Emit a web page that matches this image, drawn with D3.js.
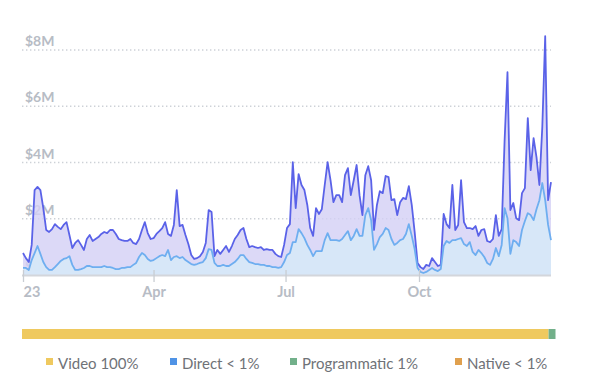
<!DOCTYPE html>
<html>
<head>
<meta charset="utf-8">
<script src="https://cdn.jsdelivr.net/npm/d3@7"></script>
<style>
  html, body { margin: 0; padding: 0; background: #fff; }
  svg { display: block; }
  text { font-family: Lato, "Open Sans", sans-serif; }
</style>
</head>
<body>
<svg id="chart" width="600" height="379"></svg>
<script>
// ---- data (values in $M, one sample every 2 days starting 2023-01-01) ----
const startDate = "2023-01-01";
const stepDays = 2;
const totalRevenue = [
  0.78,0.60,0.46,1.07,3.02,3.13,3.02,2.38,1.60,1.53,1.63,1.81,1.71,1.63,1.78,1.88,1.42,0.96,1.14,1.24,
  1.07,0.89,1.28,1.42,1.21,1.28,1.35,1.46,1.53,1.49,1.60,1.60,1.46,1.28,1.24,1.21,1.21,1.28,1.14,1.10,
  1.28,1.60,1.88,1.49,1.28,1.31,1.46,1.56,1.67,1.88,1.46,1.39,1.78,3.02,1.74,1.78,1.42,1.10,0.71,0.57,
  0.60,0.67,0.82,1.14,2.31,2.24,0.67,0.89,0.75,0.89,1.03,0.82,1.03,1.28,1.42,1.60,1.67,1.28,0.99,1.03,
  0.99,0.96,0.99,0.89,0.92,0.89,0.89,0.75,0.67,0.64,1.07,1.67,1.81,4.01,2.38,3.59,3.20,3.02,2.49,1.67,
  1.39,2.38,2.17,2.34,3.20,4.01,3.37,2.59,2.84,2.84,2.59,3.55,3.80,2.84,3.37,3.91,2.84,2.13,3.55,3.87,
  3.37,1.60,2.49,2.98,2.91,3.52,3.48,2.66,2.70,2.13,2.59,2.74,2.70,3.16,2.49,1.53,0.43,0.28,0.21,0.36,
  0.32,0.60,0.46,0.32,0.36,2.17,1.81,1.67,3.20,1.60,1.78,3.37,1.88,1.67,1.67,1.63,1.74,1.39,1.60,1.63,
  1.21,1.17,1.28,2.13,1.39,1.63,4.76,7.21,2.31,2.56,2.02,1.95,2.91,3.09,5.58,3.73,4.87,4.19,3.20,5.26,
  8.49,2.66,3.30
];
const directRevenue = [
  0.25,0.25,0.18,0.53,0.78,1.03,0.75,0.46,0.28,0.18,0.18,0.28,0.39,0.50,0.57,0.60,0.67,0.36,0.18,0.18,
  0.21,0.25,0.32,0.32,0.28,0.28,0.28,0.28,0.32,0.28,0.28,0.25,0.21,0.21,0.25,0.25,0.28,0.28,0.36,0.43,
  0.64,0.78,0.71,0.57,0.50,0.53,0.60,0.67,0.71,0.67,0.89,0.53,0.64,0.67,0.60,0.64,0.53,0.46,0.39,0.36,
  0.39,0.43,0.46,0.60,0.92,0.89,0.43,0.32,0.32,0.36,0.32,0.32,0.39,0.46,0.57,0.71,0.71,0.57,0.46,0.43,
  0.39,0.39,0.36,0.36,0.32,0.32,0.28,0.28,0.25,0.28,0.46,0.71,0.78,1.17,1.17,1.63,1.49,1.31,1.07,0.89,
  0.67,0.85,0.85,0.85,1.24,1.49,1.24,1.24,1.24,1.21,1.28,1.42,1.56,1.24,1.39,1.63,1.39,1.39,2.13,2.38,
  1.95,0.89,1.10,1.35,1.46,1.67,1.60,1.28,1.07,1.14,1.24,1.28,1.46,1.81,1.39,0.92,0.25,0.11,0.07,0.11,
  0.18,0.25,0.18,0.14,0.21,1.03,1.21,1.14,1.24,1.24,1.28,1.31,1.10,1.03,1.17,0.82,0.71,0.89,0.78,0.64,
  0.43,0.36,0.57,0.96,0.67,1.07,2.38,2.02,0.75,1.24,1.17,1.03,1.60,1.92,2.20,2.13,1.95,2.34,2.66,3.27,
  2.66,1.78,1.24
];
const yTicks = [0, 2, 4, 6, 8];
const xTickDates = ["2023-01-01", "2023-04-01", "2023-07-01", "2023-10-01"];
const xTickLabels = ["23", "Apr", "Jul", "Oct"];
const shareNames = ["Video", "Direct", "Programmatic", "Native"];
const shareLabels = ["Video 100%", "Direct < 1%", "Programmatic 1%", "Native < 1%"];
const barShares = [98.7, 0, 1.3, 0];
const shareColors = ["#efc95f", "#4f93e6", "#72b08a", "#e0a04e"];

// ---- build ----
const parse = d3.timeParse("%Y-%m-%d");
const t0 = parse(startDate);
const rows = totalRevenue.map((v, i) => ({
  date: d3.timeDay.offset(t0, i * stepDays),
  total: v,
  direct: directRevenue[i]
}));

const svg = d3.select("#chart");
const x = d3.scaleTime().domain([parse("2023-01-01"), parse("2023-12-31")]).range([23, 551]);
const y = d3.scaleLinear().domain([0, 8]).range([275, 50]);

// grid
svg.append("g").selectAll("line").data(yTicks.filter(d => d > 0)).join("line")
  .attr("x1", 22).attr("x2", 551)
  .attr("y1", d => y(d)).attr("y2", d => y(d))
  .attr("stroke", "#cdd1d7").attr("stroke-width", 1.4)
  .attr("stroke-dasharray", "1.4,2.6");

// y labels
svg.append("g").selectAll("text").data(yTicks).join("text")
  .attr("x", 25).attr("y", d => y(d) - 4)
  .attr("fill", "#b7bcc5").attr("font-size", 14).attr("font-weight", 700)
  .text(d => "$" + d + (d === 0 ? "" : "M"));

// areas
const areaTotal = d3.area().x(d => x(d.date)).y0(y(0)).y1(d => y(d.total)).curve(d3.curveLinear);
const areaDirect = d3.area().x(d => x(d.date)).y0(y(0)).y1(d => y(d.direct)).curve(d3.curveLinear);
const lineTotal = d3.line().x(d => x(d.date)).y(d => y(d.total));
const lineDirect = d3.line().x(d => x(d.date)).y(d => y(d.direct));

svg.append("path").datum(rows).attr("d", areaTotal)
  .attr("fill", "#d3cff5").attr("fill-opacity", 0.8);
svg.append("path").datum(rows).attr("d", areaDirect)
  .attr("fill", "#d6e8f8").attr("fill-opacity", 0.95);
svg.append("path").datum(rows).attr("d", lineTotal)
  .attr("fill", "none").attr("stroke", "#5a62e8").attr("stroke-width", 1.8).attr("stroke-linejoin", "round");
svg.append("path").datum(rows).attr("d", lineDirect)
  .attr("fill", "none").attr("stroke", "#6eaef0").attr("stroke-width", 1.8).attr("stroke-linejoin", "round");

// baseline
svg.append("line").attr("x1", 22).attr("x2", 551).attr("y1", y(0) + 0.5).attr("y2", y(0) + 0.5)
  .attr("stroke", "#d3d6db").attr("stroke-width", 2);

// x axis ticks
const xAxis = d3.axisBottom(x)
  .tickValues(xTickDates.map(parse))
  .tickFormat((d, i) => xTickLabels[i])
  .tickSize(8).tickPadding(6);
const gx = svg.append("g").attr("transform", `translate(0,${y(0) - 5})`).call(xAxis);
gx.select(".domain").remove();
gx.selectAll(".tick line").attr("stroke", "#c9cdd3").attr("stroke-width", 1.3).attr("y2", 12);
gx.selectAll(".tick text")
  .attr("fill", "#b7bcc5").attr("font-size", 14.5).attr("font-weight", 700)
  .attr("font-family", "Lato, sans-serif")
  .attr("y", 17)
  .attr("text-anchor", (d, i) => i === 0 ? "start" : "middle");

// share bar
const bx = d3.scaleLinear().domain([0, 100]).range([22, 555.5]);
let acc = 0;
const segs = barShares.map((s, i) => { const o = { x0: acc, x1: acc + s, c: shareColors[i] }; acc += s; return o; });
svg.append("g").selectAll("rect").data(segs.filter(s => s.x1 > s.x0)).join("rect")
  .attr("x", d => bx(d.x0)).attr("width", d => bx(d.x1) - bx(d.x0))
  .attr("y", 329).attr("height", 10)
  .attr("fill", d => d.c);

// legend
const legX = [46, 170, 290, 455];
const lg = svg.append("g").selectAll("g").data(shareLabels).join("g")
  .attr("transform", (d, i) => `translate(${legX[i]},358)`);
lg.append("rect").attr("width", 7).attr("height", 7).attr("y", 0).attr("fill", (d, i) => shareColors[i]);
lg.append("text").attr("x", 12).attr("y", 10.5).attr("font-size", 15)
  .attr("fill", "#6f7277").text(d => d);
</script>
</body>
</html>
